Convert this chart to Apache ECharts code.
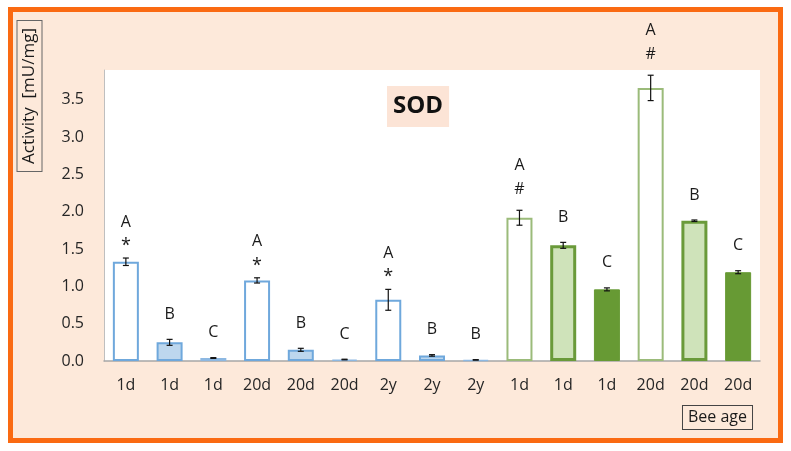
<!DOCTYPE html>
<html>
<head>
<meta charset="utf-8">
<script src="https://cdn.jsdelivr.net/npm/echarts@6/dist/echarts.min.js"></script>
<style>
html,body{margin:0;padding:0;background:#fff;}
#c{width:791px;height:451px;}
</style>
</head>
<body>
<div id="c"></div>
<script>
// ---- data ----
const categories = ['1d','1d','1d','20d','20d','20d','2y','2y','2y','1d','1d','1d','20d','20d','20d'];
const values = [1.33, 0.25, 0.04, 1.08, 0.15, 0.02, 0.82, 0.075, 0.015, 1.92, 1.55, 0.96, 3.66, 1.88, 1.19];
const errors = [0.05, 0.04, 0.005, 0.035, 0.02, 0.004, 0.14, 0.01, 0.003, 0.10, 0.04, 0.02, 0.17, 0.01, 0.02];
const letters = ['A','B','C','A','B','C','A','B','B','A','B','C','A','B','C'];
const marks = ['*','','','*','','','*','','','#','','','#','',''];
const titleText = 'SOD';
const yName = 'Activity  [mU/mg]';
const xName = 'Bee age';

// ---- styles ----
const blueStyles = [
  {color:'#ffffff', borderColor:'#6FA8DC', borderWidth:2},
  {color:'#BDD7EE', borderColor:'#6FA8DC', borderWidth:2},
  {color:'#3F6E9C', borderColor:'#8DB8E2', borderWidth:1.5}
];
const greenStyles = [
  {color:'#ffffff', borderColor:'#9BBB7A', borderWidth:2},
  {color:'#CFE3BA', borderColor:'#6A9A3A', borderWidth:3},
  {color:'#679A34', borderColor:'#679A34', borderWidth:1}
];
const FONT = '"Open Sans", Lato, sans-serif';

const chart = echarts.init(document.getElementById('c'), null, {renderer:'canvas'});

const barData = values.map((v, i) => ({
  value: v,
  itemStyle: (i < 9 ? blueStyles : greenStyles)[i % 3]
}));

const option = {
  backgroundColor: '#ffffff',
  animation: false,
  title: {
    text: titleText,
    left: 387, top: 86,
    backgroundColor: '#FCE4D6',
    padding: [6, 6],
    textStyle: {fontFamily: FONT, fontSize: 24, fontWeight: 'bold', color: '#111', lineHeight: 29}
  },
  graphic: [
    {type:'rect', z:-10, shape:{x:10.5, y:9.5, width:770, height:431},
     style:{fill:'#FDE9DA', stroke:'#FA6A12', lineWidth:5}},
    {type:'rect', z:-9, shape:{x:104, y:70, width:656, height:291},
     style:{fill:'#ffffff'}},
    {type:'text', x:29.5, y:96, rotation:Math.PI/2,
     style:{text:yName, font:'17px ' + FONT, fill:'#1a1a1a', align:'center', verticalAlign:'middle',
            backgroundColor:'#FDE9DA', borderColor:'#666', borderWidth:1, padding:[4,7,3,7]}},
    {type:'text', x:717.5, y:417.5,
     style:{text:xName, font:'16px ' + FONT, fill:'#1a1a1a', align:'center', verticalAlign:'middle',
            backgroundColor:'#FDE9DA', borderColor:'#444', borderWidth:1, padding:[4,5,3,5]}}
  ],
  grid: {left:104, right:31, top:70, bottom:90, containLabel:false},
  xAxis: {
    type: 'category',
    data: categories,
    axisLine: {show:true, lineStyle:{color:'#A6A6A6', width:1.5}},
    axisTick: {show:false},
    axisLabel: {fontFamily: FONT, fontSize: 16, color:'#262626', margin: 16, interval: 0}
  },
  yAxis: {
    type: 'value',
    min: 0, max: 3.9, interval: 0.5,
    axisLine: {show:true, lineStyle:{color:'#BFBFBF', width:1}},
    axisTick: {show:false},
    splitLine: {show:false},
    axisLabel: {fontFamily: FONT, fontSize: 16, color:'#262626', margin: 20,
                showMaxLabel: false, formatter: v => v.toFixed(1)}
  },
  series: [
    {
      type: 'bar',
      data: barData,
      barWidth: 26,
      z: 2
    },
    {
      type: 'custom',
      z: 5,
      data: values.map((v, i) => [i, v, errors[i]]),
      encode: {x: 0, y: 1},
      renderItem: function (params, api) {
        const i = api.value(0), v = api.value(1), e = api.value(2);
        const top = api.coord([i, v + e]);
        const bot = api.coord([i, v - e]);
        const x = top[0];
        const cap = 3;
        const children = [
          {type:'line', shape:{x1:x, y1:top[1], x2:x, y2:bot[1]}, style:{stroke:'#111', lineWidth:1.2}},
          {type:'line', shape:{x1:x-cap, y1:top[1], x2:x+cap, y2:top[1]}, style:{stroke:'#111', lineWidth:1.2}},
          {type:'line', shape:{x1:x-cap, y1:bot[1], x2:x+cap, y2:bot[1]}, style:{stroke:'#111', lineWidth:1.2}}
        ];
        const m = marks[i];
        let letterY;
        if (m === '*') {
          children.push({type:'text', style:{text:m, x:x, y:top[1]-12, font:'18px ' + FONT, fill:'#1a1a1a', align:'center', verticalAlign:'middle'}});
          letterY = top[1] - 36;
        } else if (m === '#') {
          children.push({type:'text', style:{text:m, x:x, y:top[1]-21, font:'16px ' + FONT, fill:'#1a1a1a', align:'center', verticalAlign:'middle'}});
          letterY = top[1] - 45;
        } else {
          letterY = top[1] - 25;
        }
        children.push({type:'text', style:{text:letters[i], x:x, y:letterY, font:'16px ' + FONT, fill:'#1a1a1a', align:'center', verticalAlign:'middle'}});
        return {type:'group', children: children};
      }
    }
  ]
};
chart.setOption(option);
</script>
</body>
</html>
